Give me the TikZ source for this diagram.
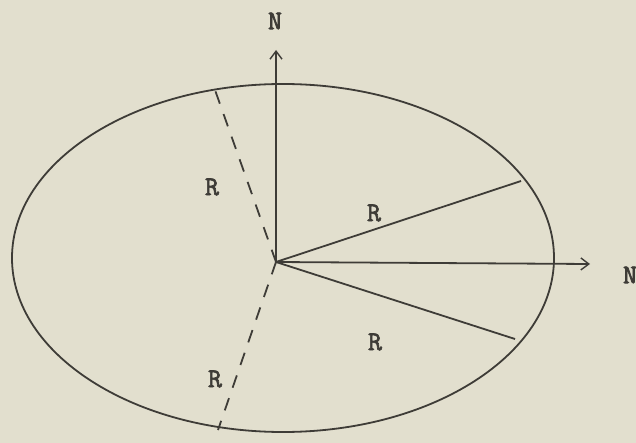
\documentclass[tikz,border=0pt]{standalone}
\usepackage{fontspec}
\newfontfamily\typew{Latin Modern Mono}[FakeBold=2.5]
\usetikzlibrary{arrows.meta}
\definecolor{paper}{RGB}{226,223,206}
\definecolor{ink}{RGB}{62,60,55}
\tikzset{
  line/.style={draw=ink, line width=1.8pt},
  dline/.style={draw=ink, line width=1.8pt, dash pattern=on 13pt off 11pt},
  arr/.style={-{Straight Barb[length=8pt,width=12pt,line width=1.4pt]}},
  lbl/.style={text=ink, font=\typew\fontsize{27}{29}\selectfont, inner sep=0pt}
}
\begin{document}
\begin{tikzpicture}[x=1pt,y=-1pt]
\fill[paper] (0,0) rectangle (636,443);
\useasboundingbox (0,0) rectangle (636,443);
\draw[line] (283,258) ellipse [x radius=271, y radius=174];
\coordinate (O) at (276,262);
\coordinate (Ntop) at (276,50);
\coordinate (Nright) at (590,264);
\coordinate (A) at (521,181);
\coordinate (B) at (515,339);
\coordinate (C) at (215,90);
\coordinate (D) at (218,430);
\draw[line, arr] (O) -- (Ntop);
\draw[line, arr] (O) -- (Nright);
\draw[line] (O) -- (A);
\draw[line] (O) -- (B);
\draw[dline] (O) -- (C);
\draw[dline] (O) -- (D);
\node[lbl] (n1) at (275,21) {N};
\node[lbl] (n2) at (630,275) {N};
\node[lbl] (r1) at (212,187) {R};
\node[lbl] (r2) at (374,213) {R};
\node[lbl] (r3) at (375,342) {R};
\node[lbl] (r4) at (215,379) {R};
\end{tikzpicture}
\end{document}
